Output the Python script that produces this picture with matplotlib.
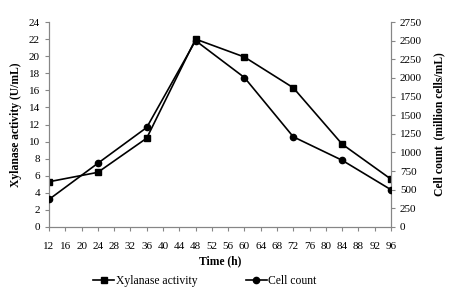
import matplotlib
matplotlib.use("Agg")
import matplotlib.pyplot as plt
from matplotlib.lines import Line2D

plt.rcParams['font.family'] = ['Liberation Serif', 'DejaVu Serif']

time_h = [12, 24, 36, 48, 60, 72, 84, 96]
xylanase = [5.3, 6.4, 10.4, 22.0, 19.9, 16.3, 9.7, 5.6]
cell_count = [370, 855, 1335, 2500, 2005, 1210, 895, 500]
x_ticks = list(range(12, 97, 4))
left_ticks = list(range(0, 25, 2))
right_ticks = list(range(0, 2751, 250))

fig = plt.figure(figsize=(4.5, 2.94), dpi=100)
ax = fig.add_axes([49/450, 1-227/294, (391-49)/450, (227-22)/294])
ax2 = ax.twinx()

gray = '#868686'
fs = 8.0
lfs = 8.4

ax.plot(time_h, xylanase, color='black', lw=1.2, marker='s', ms=4.5, zorder=3)
ax2.plot(time_h, cell_count, color='black', lw=1.2, marker='o', ms=4.5, zorder=3)

ax.set_xlim(12, 96)
ax.set_ylim(0, 24)
ax2.set_ylim(0, 2750)
ax.set_xticks(x_ticks)
ax.set_yticks(left_ticks)
ax2.set_yticks(right_ticks)

for a in (ax, ax2):
    a.spines['top'].set_visible(False)
    for s in ('left', 'right', 'bottom'):
        a.spines[s].set_color(gray)
        a.spines[s].set_linewidth(0.8)
    a.tick_params(axis='both', colors=gray, labelcolor='black', labelsize=fs,
                  length=3, width=0.8, direction='out')
ax.tick_params(axis='x', pad=8)
ax.set_xlabel('Time (h)', fontsize=lfs, fontweight='bold', labelpad=3)
ax.set_ylabel('Xylanase activity (U/mL)', fontsize=lfs, fontweight='bold', labelpad=5)
ax2.set_ylabel('Cell count  (million cells/mL)', fontsize=lfs, fontweight='bold', labelpad=8)

handles = [Line2D([], [], color='black', lw=1.2, marker='s', ms=4.5),
           Line2D([], [], color='black', lw=1.2, marker='o', ms=4.5)]
fig.legend(handles, ['Xylanase activity', 'Cell count'], loc='center',
           bbox_to_anchor=(205/450, 1-281/294), ncol=2, frameon=False,
           fontsize=lfs, handlelength=1.75, handletextpad=0.15, columnspacing=4.2)

fig.savefig('out.png', dpi=100)
